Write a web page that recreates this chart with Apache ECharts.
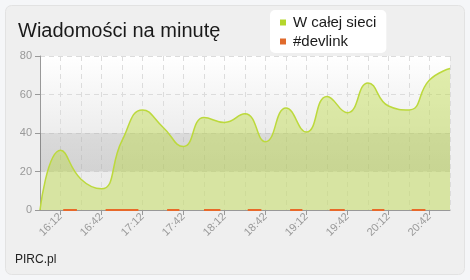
<!DOCTYPE html>
<html><head><meta charset="utf-8">
<script src="https://cdn.jsdelivr.net/npm/echarts@6/dist/echarts.min.js"></script>
<style>html,body{margin:0;padding:0;background:#f5f6f8;}#c{width:470px;height:280px;}</style>
</head><body><div id="c"></div>
<script>
// Data
const categories = ['15:57','16:12','16:27','16:42','16:57','17:12','17:27','17:42','17:57','18:12','18:27','18:42','18:57','19:12','19:27','19:42','19:57','20:12','20:27','20:42','20:57'];
const networkValues = [0,31,16,11,36,52,43,33,48,45.5,50,35.5,53,40.5,59,50.5,66,54,52,67.5,73.5];
// #devlink activity intervals (minutes after 15:57), value 0
const devStart = [17,48,93,120,152,183,212,243,272];
const devEnd   = [27,72,102,132,162,192,223,252,282];
const yTicks = [0,20,40,60,80];

const devData = [];
devStart.forEach((s,i)=>{ devData.push([s,0]); devData.push([devEnd[i],0]); devData.push([(devEnd[i]+(devStart[i+1]||300))/2, null]); });

const chart = echarts.init(document.getElementById('c'), null, {renderer:'canvas'});
const font = 'Liberation Sans, Arial, sans-serif';
chart.setOption({
  animation:false,
  textStyle:{fontFamily:font},
  graphic:[{type:'rect', z:-10, silent:true, shape:{x:5.5,y:5.5,width:459,height:269,r:6}, style:{fill:'#efefef', stroke:'#e2e2e2', lineWidth:1}},
           {type:'text', left:15, top:254, style:{text:'PIRC.pl', fill:'#222', font:'12px '+font}}],
  title:{text:'Wiadomości na minutę', left:13, top:16, textStyle:{fontSize:20, fontWeight:'normal', color:'#1a1a1a', fontFamily:font}},
  legend:{orient:'vertical', left:270, top:10, backgroundColor:'#fff', borderRadius:5, padding:[5,10,4,10], itemGap:4,
    icon:'rect', itemWidth:6, itemHeight:6, textStyle:{fontSize:15, color:'#1a1a1a', fontFamily:font, padding:[0,0,0,2]},
    data:['W całej sieci','#devlink']},
  grid:{left:40, right:20, top:56, bottom:70, show:true, borderWidth:0,
    backgroundColor:{type:'linear',x:0,y:0,x2:0,y2:1,colorStops:[{offset:0,color:'#ffffff'},{offset:0.5,color:'#ededed'},{offset:1,color:'#ececec'}]}},
  xAxis:[{type:'category', data:categories, boundaryGap:false,
    axisLine:{lineStyle:{color:'#999'}},
    axisTick:{show:true, length:5, interval:(i)=>i%2===1, lineStyle:{color:'#999'}},
    axisLabel:{interval:(i)=>i%2===1, rotate:45, color:'#999', fontSize:11, margin:5, fontFamily:font},
    splitLine:{show:true, interval:0, lineStyle:{color:'#dcdcdc', type:[5,4]}}},
    {type:'value', min:0, max:300, show:false}],
  yAxis:{type:'value', min:0, max:80, interval:20,
    axisLine:{show:true, lineStyle:{color:'#999'}},
    axisTick:{show:true, length:5, lineStyle:{color:'#999'}},
    axisLabel:{color:'#999', fontSize:11, margin:8, fontFamily:font, formatter:(v)=>yTicks.includes(v)?String(v):''},
    splitLine:{show:true, lineStyle:{color:'#dcdcdc', type:[5,4]}}},
  series:[
    {type:'line', data:[], silent:true, markArea:{silent:true, itemStyle:{color:{type:'linear',x:0,y:0,x2:0,y2:1,colorStops:[{offset:0,color:'rgba(0,0,0,0.08)'},{offset:1,color:'rgba(0,0,0,0.11)'}]}}, data:[[{yAxis:20},{yAxis:40}]]}},
    {name:'W całej sieci', type:'line', smooth:0.5, symbol:'none', data:networkValues,
     itemStyle:{color:'#b5d62c'}, lineStyle:{color:'#bcd93c', width:1.5},
     areaStyle:{color:'rgba(185,218,60,0.6)', origin:'start'}},
    {name:'#devlink', type:'line', xAxisIndex:1, symbol:'none', data:devData, connectNulls:false,
     itemStyle:{color:'#e06a2c'}, lineStyle:{color:'#e8692a', width:2}}
  ]
});
</script></body></html>
